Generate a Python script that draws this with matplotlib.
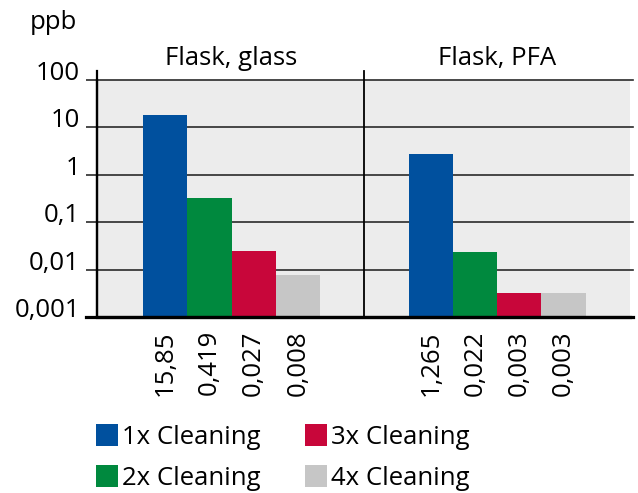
import matplotlib
matplotlib.use("Agg")
import matplotlib.pyplot as plt
from matplotlib.patches import Patch
from matplotlib.lines import Line2D

plt.rcParams['font.family'] = ['Open Sans', 'DejaVu Sans']

groups = ["Flask, glass", "Flask, PFA"]
series = ["1x Cleaning", "2x Cleaning", "3x Cleaning", "4x Cleaning"]
colors = ["#00509e", "#00893e", "#c8063a", "#c6c6c6"]
# bar heights (ppb)
glass_vals = [18.7, 0.32, 0.025, 0.0077]
pfa_vals = [2.77, 0.023, 0.0032, 0.0032]
# value labels printed under the bars
glass_labels = ["15,85", "0,419", "0,027", "0,008"]
pfa_labels = ["1,265", "0,022", "0,003", "0,003"]
yticks = [0.001, 0.01, 0.1, 1, 10, 100]
ytick_labels = ["0,001", "0,01", "0,1", "1", "10", "100"]

FS = 18.5
W, H = 638, 493
fig = plt.figure(figsize=(W / 100, H / 100), dpi=100)
L, R, T, B = 97, 630, 80, 317
ax = fig.add_axes([L / W, 1 - B / H, (R - L) / W, (B - T) / H])
ax.set_facecolor("#ececec")

glass_x = [0, 1, 2, 3]
pfa_x = [6, 7, 8, 9]
for i in range(4):
    ax.bar(glass_x[i], glass_vals[i], width=1.0, color=colors[i], zorder=1)
    ax.bar(pfa_x[i], pfa_vals[i], width=1.0, color=colors[i], zorder=1)

ax.set_yscale("log")
ax.set_ylim(0.001, 100)
ax.set_xlim(-1.54, 10.5)

# gridlines
for yv in yticks[1:]:
    ax.axhline(yv, xmin=0, xmax=1.006, color="#2a2a2a", lw=1.2, zorder=0.5,
               clip_on=False)

for s in ["top", "right"]:
    ax.spines[s].set_visible(False)
ax.spines["left"].set_linewidth(1.6)
ax.spines["bottom"].set_linewidth(2.3)
ax.spines["bottom"].set_zorder(3)
# left spine extension and divider
ax.add_line(Line2D([0, 0], [0, 1.038], transform=ax.transAxes, color="black",
                   lw=1.6, clip_on=False))
ax.add_line(Line2D([4.5, 4.5], [0, 1.038],
                   transform=ax.get_xaxis_transform(), color="black",
                   lw=1.3, clip_on=False, zorder=2))
# extend bottom spine left
ax.add_line(Line2D([-0.021, 1.006], [0, 0], transform=ax.transAxes,
                   color="black", lw=2.3, clip_on=False, zorder=3))

ax.set_yticks(yticks)
ax.set_yticklabels(ytick_labels)
ax.yaxis.set_minor_locator(matplotlib.ticker.NullLocator())
ax.tick_params(axis="y", length=8, width=1.2, color="#2a2a2a", pad=4.3,
               labelsize=FS)
for t in ax.get_yticklabels():
    t.set_va("baseline")

ax.set_xticks(glass_x + pfa_x)
ax.set_xticklabels(glass_labels + pfa_labels, rotation=90, va="top",
                   ha="center")
ax.tick_params(axis="x", length=0, pad=9.5, labelsize=FS)

# group titles
ax.text(1.5, 1.063, groups[0], transform=ax.get_xaxis_transform(),
        ha="center", va="baseline", fontsize=FS)
ax.text(7.5, 1.063, groups[1], transform=ax.get_xaxis_transform(),
        ha="center", va="baseline", fontsize=FS)
fig.text(30 / W, 1 - 29 / H, "ppb", fontsize=FS, ha="left", va="baseline")

handles = [Patch(facecolor=c, edgecolor="none") for c in colors]
fig.legend(handles, series, ncol=2, loc="upper left",
           bbox_to_anchor=(96 / W, 1 - 424 / H), frameon=False,
           fontsize=FS, handlelength=0.85, handleheight=0.95,
           handletextpad=0.15, columnspacing=1.75, labelspacing=0.6,
           borderpad=0, borderaxespad=0)

fig.savefig("out.png", dpi=100)
